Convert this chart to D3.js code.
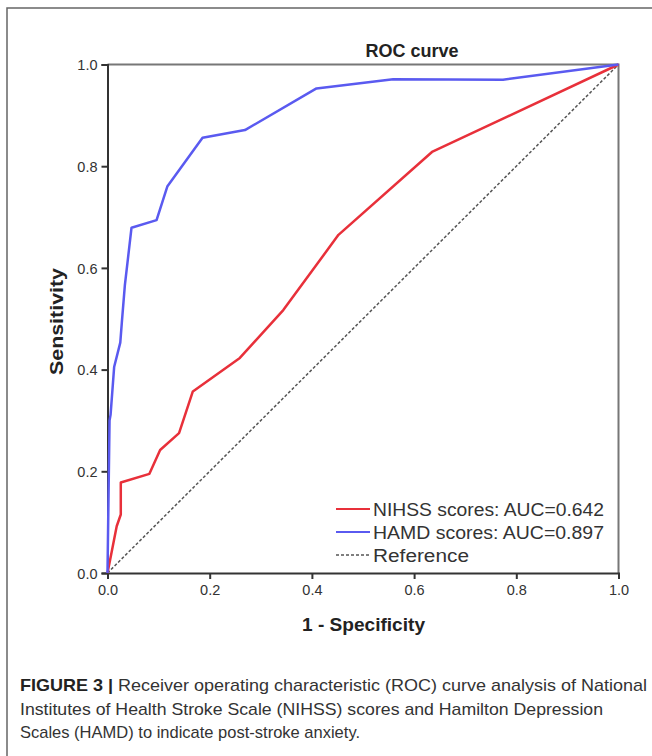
<!DOCTYPE html>
<html>
<head>
<meta charset="utf-8">
<script src="https://cdn.jsdelivr.net/npm/d3@7"></script>
<style>
  body { margin: 0; background: #fff; }
  svg { display: block; font-family: "Liberation Sans", Arial, sans-serif; }
</style>
</head>
<body>
<script>
// ROC points
const hamdFpr = [0, 0.004, 0.006, 0.013, 0.025, 0.028, 0.034, 0.047, 0.096, 0.117, 0.186, 0.269, 0.409, 0.559, 0.774, 1];
const hamdTpr = [0, 0.30, 0.311, 0.405, 0.453, 0.492, 0.566, 0.679, 0.694, 0.76, 0.856, 0.871, 0.953, 0.971, 0.97, 1];
const nihssFpr = [0, 0.004, 0.018, 0.026, 0.026, 0.082, 0.103, 0.14, 0.167, 0.259, 0.344, 0.452, 0.635, 1];
const nihssTpr = [0, 0.02, 0.092, 0.115, 0.178, 0.195, 0.242, 0.275, 0.357, 0.423, 0.517, 0.665, 0.828, 1];
const refFpr = [0, 1];
const refTpr = [0, 1];
const ticks = [0, 0.2, 0.4, 0.6, 0.8, 1.0];
const legendLabels = ['NIHSS scores: AUC=0.642', 'HAMD scores: AUC=0.897', 'Reference'];
const captionLines = [
  ['FIGURE 3 | ', 'Receiver operating characteristic (ROC) curve analysis of National'],
  ['', 'Institutes of Health Stroke Scale (NIHSS) scores and Hamilton Depression'],
  ['', 'Scales (HAMD) to indicate post-stroke anxiety.']
];
const captionWidths = [627, 583, 340];

const width = 652, height = 756;
const margin = {left: 107.5, right: 33.5, top: 64.5, bottom: 183};

const svg = d3.select('body').append('svg')
  .attr('width', width)
  .attr('height', height);

// outer figure frame (clipped on right/bottom like the scan)
svg.append('rect')
  .attr('x', 7).attr('y', 8)
  .attr('width', 700).attr('height', 800)
  .attr('fill', 'none')
  .attr('stroke', '#666')
  .attr('stroke-width', 1.5);

const x = d3.scaleLinear().domain([0, 1]).range([margin.left, width - margin.right]);
const y = d3.scaleLinear().domain([0, 1]).range([height - margin.bottom, margin.top]);

// top / right frame of plot
svg.append('path')
  .attr('d', `M${x(0)},${y(1)}H${x(1)}V${y(0)}`)
  .attr('fill', 'none')
  .attr('stroke', '#777')
  .attr('stroke-width', 2);

const fmt = d3.format('.1f');

const xAxis = svg.append('g')
  .attr('transform', `translate(0,${y(0)})`)
  .call(d3.axisBottom(x).tickValues(ticks).tickFormat(fmt).tickSize(6).tickPadding(6));

const yAxis = svg.append('g')
  .attr('transform', `translate(${x(0)},0)`)
  .call(d3.axisLeft(y).tickValues(ticks).tickFormat(fmt).tickSize(6).tickPadding(4));

[xAxis, yAxis].forEach(g => {
  g.select('.domain').attr('stroke', '#333').attr('stroke-width', 2);
  g.selectAll('.tick line').attr('stroke', '#333').attr('stroke-width', 2);
  g.selectAll('.tick text')
    .attr('fill', '#333')
    .style('font-size', '14.5px')
    .style('font-family', '"Liberation Sans", Arial, sans-serif');
});
yAxis.selectAll('.tick text').attr('dy', '0.36em');

const line = d3.line().x(d => x(d[0])).y(d => y(d[1]));

svg.append('path')
  .datum(d3.zip(refFpr, refTpr))
  .attr('d', line)
  .attr('fill', 'none')
  .attr('stroke', '#555')
  .attr('stroke-width', 1.5)
  .attr('stroke-dasharray', '3,2');

svg.append('path')
  .datum(d3.zip(nihssFpr, nihssTpr))
  .attr('d', line)
  .attr('fill', 'none')
  .attr('stroke', '#e8303a')
  .attr('stroke-width', 2.5)
  .attr('stroke-linejoin', 'round');

svg.append('path')
  .datum(d3.zip(hamdFpr, hamdTpr))
  .attr('d', line)
  .attr('fill', 'none')
  .attr('stroke', '#5a5af0')
  .attr('stroke-width', 2.5)
  .attr('stroke-linejoin', 'round');

// legend
const legendStyles = [
  {color: '#e8303a', dash: null, w: 2},
  {color: '#5a5af0', dash: null, w: 2},
  {color: '#555', dash: '3,2', w: 1.5}
];
const legendLens = [231, 231, 96];
const legend = svg.append('g').attr('transform', 'translate(336,509)');
legendLabels.forEach((lab, i) => {
  const row = legend.append('g').attr('transform', `translate(0,${i * 23})`);
  row.append('line')
    .attr('x1', 0).attr('x2', 34)
    .attr('stroke', legendStyles[i].color)
    .attr('stroke-width', legendStyles[i].w)
    .attr('stroke-dasharray', legendStyles[i].dash);
  row.append('text')
    .attr('x', 37).attr('y', 6.5)
    .attr('fill', '#333')
    .attr('textLength', legendLens[i])
    .attr('lengthAdjust', 'spacingAndGlyphs')
    .style('font-size', '17.5px')
    .text(lab);
});

// titles
svg.append('text')
  .attr('x', 412).attr('y', 57)
  .attr('text-anchor', 'middle')
  .style('font-size', '18px').style('font-weight', 'bold')
  .attr('fill', '#222')
  .text('ROC curve');

svg.append('text')
  .attr('x', 302).attr('y', 631)
  .attr('textLength', 123)
  .attr('lengthAdjust', 'spacingAndGlyphs')
  .style('font-size', '19px').style('font-weight', 'bold')
  .attr('fill', '#222')
  .text('1 - Specificity');

svg.append('text')
  .attr('transform', `translate(63,375) rotate(-90)`)
  .attr('textLength', 107)
  .attr('lengthAdjust', 'spacingAndGlyphs')
  .style('font-size', '19px').style('font-weight', 'bold')
  .attr('fill', '#222')
  .text('Sensitivity');

// caption
captionLines.forEach((parts, i) => {
  const t = svg.append('text')
    .attr('x', 20).attr('y', 691 + i * 23.5)
    .attr('fill', '#333')
    .attr('textLength', captionWidths[i])
    .attr('lengthAdjust', 'spacingAndGlyphs')
    .style('font-size', '17px');
  if (parts[0]) t.append('tspan').style('font-weight', 'bold').attr('fill', '#222').text(parts[0]);
  t.append('tspan').text(parts[1]);
});
</script>
</body>
</html>
